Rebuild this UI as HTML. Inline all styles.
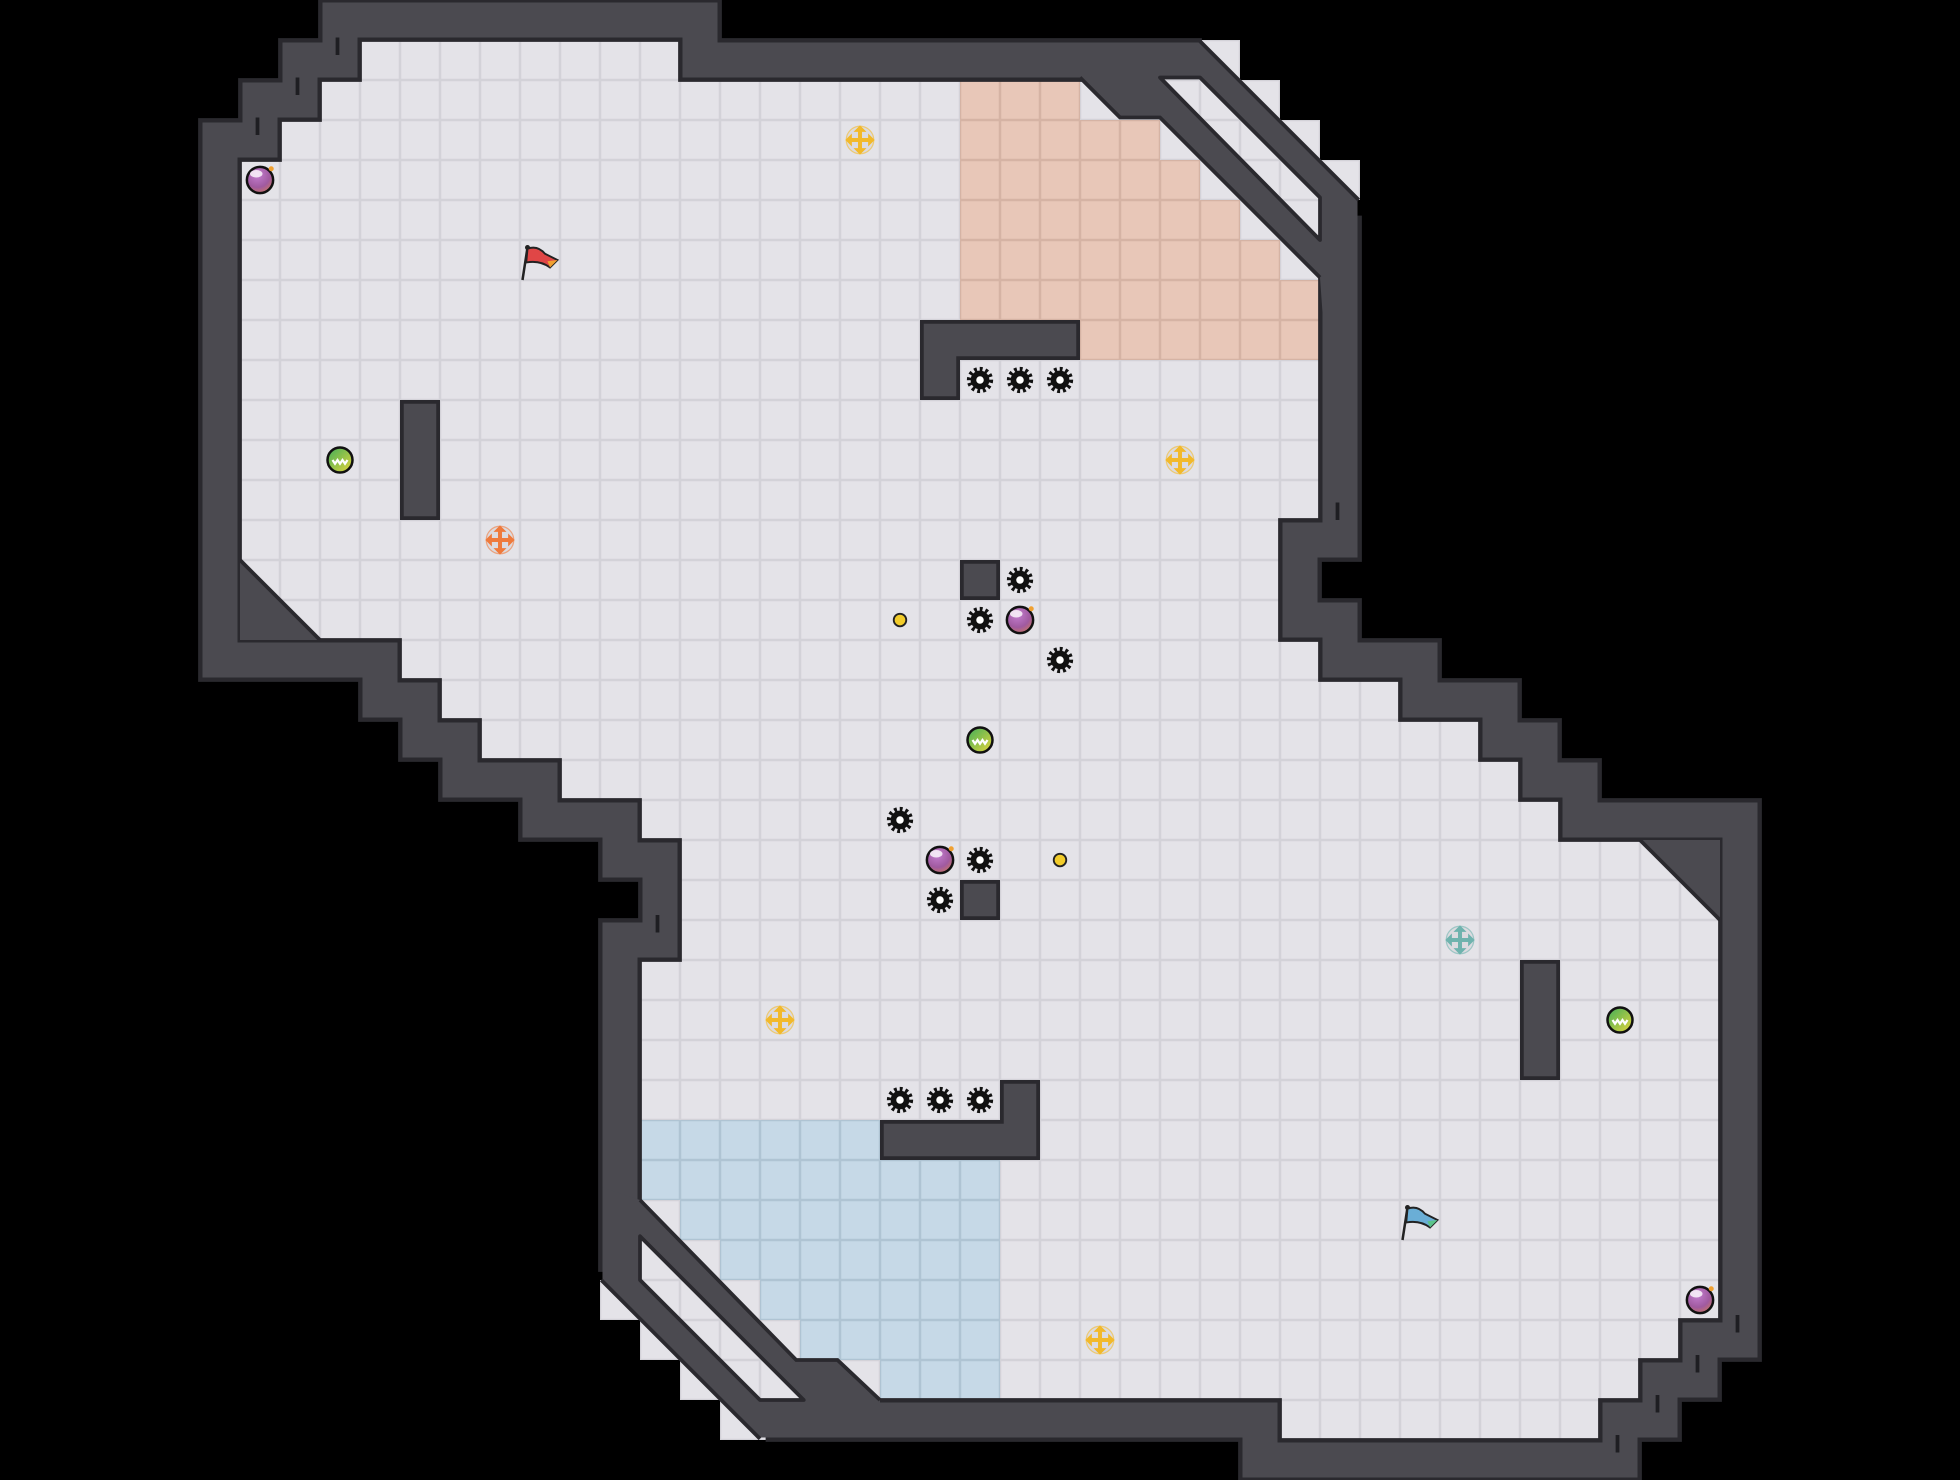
<!DOCTYPE html>
<html><head><meta charset="utf-8"><style>html,body{margin:0;padding:0;background:#000;}svg{display:block}</style></head>
<body>
<svg width="1960" height="1480" viewBox="0 0 1568 1184" xmlns="http://www.w3.org/2000/svg">
<defs>
<pattern id="pf" width="32" height="32" patternUnits="userSpaceOnUse"><rect width="32" height="32" fill="#d3d2d8"/><rect x="1" y="1" width="30" height="30" fill="#e4e3e8"/></pattern>
<pattern id="ps" width="32" height="32" patternUnits="userSpaceOnUse"><rect width="32" height="32" fill="#d5b3a4"/><rect x="1" y="1" width="30" height="30" fill="#e8c7b8"/></pattern>
<pattern id="pb" width="32" height="32" patternUnits="userSpaceOnUse"><rect width="32" height="32" fill="#afc4d3"/><rect x="1" y="1" width="30" height="30" fill="#c6d9e7"/></pattern>
<radialGradient id="gb" cx="0.4" cy="0.3" r="0.8"><stop offset="0" stop-color="#c47fd0"/><stop offset="0.6" stop-color="#a05aa0"/><stop offset="1" stop-color="#d07a5a"/></radialGradient>
<linearGradient id="gg" x1="0" y1="0" x2="1" y2="1"><stop offset="0" stop-color="#3fae5a"/><stop offset="1" stop-color="#e6d53a"/></linearGradient>
<g id="gear"><circle r="8.5" fill="none" stroke="#111" stroke-width="4" stroke-dasharray="2.2 2.2"/><circle r="7.5" fill="#111"/><circle r="3" fill="#fff"/></g>
<g id="bomb"><circle r="10.5" fill="url(#gb)" stroke="#111" stroke-width="2"/><ellipse cx="-3" cy="-5" rx="5" ry="3" fill="#fff" opacity="0.8"/><circle cx="9" cy="-9" r="2" fill="#f0a030"/></g>
<g id="green"><circle r="10" fill="url(#gg)" stroke="#111" stroke-width="2"/><path d="M-6,0 l2,3 l2,-3 l2,3 l2,-3 l2,3 l2,-3" fill="none" stroke="#fff" stroke-width="1.8"/></g>
<g id="cross"><circle r="11" fill="#d8d7dc" opacity="0.6"/><path d="M-9,0 H9 M0,-9 V9" stroke-width="3.2" fill="none"/><path d="M-11,0 l4,-4 v8 z M11,0 l-4,-4 v8 z M0,-11 l-4,4 h8 z M0,11 l-4,-4 h8 z"/></g>
</defs>
<rect width="1568" height="1184" fill="#000"/>
<g fill="url(#pf)">
<rect x="288" y="32" width="704" height="32"/>
<rect x="256" y="64" width="768" height="32"/>
<rect x="224" y="96" width="832" height="32"/>
<rect x="192" y="128" width="896" height="32"/>
<rect x="192" y="160" width="864" height="256"/>
<rect x="192" y="416" width="832" height="96"/>
<rect x="320" y="512" width="736" height="32"/>
<rect x="352" y="544" width="768" height="32"/>
<rect x="384" y="576" width="800" height="32"/>
<rect x="448" y="608" width="768" height="32"/>
<rect x="512" y="640" width="736" height="32"/>
<rect x="544" y="672" width="832" height="96"/>
<rect x="512" y="768" width="864" height="256"/>
<rect x="480" y="1024" width="896" height="32"/>
<rect x="512" y="1056" width="832" height="32"/>
<rect x="544" y="1088" width="768" height="32"/>
<rect x="576" y="1120" width="704" height="32"/>
</g>
<g fill="url(#ps)">
<rect x="768" y="64" width="96" height="32"/>
<rect x="768" y="96" width="160" height="32"/>
<rect x="768" y="128" width="192" height="32"/>
<rect x="768" y="160" width="224" height="32"/>
<rect x="768" y="192" width="256" height="32"/>
<rect x="768" y="224" width="288" height="32"/>
<rect x="864" y="256" width="192" height="32"/>
</g>
<g fill="url(#pb)">
<rect x="512" y="896" width="192" height="32"/>
<rect x="512" y="928" width="288" height="32"/>
<rect x="544" y="960" width="256" height="32"/>
<rect x="576" y="992" width="224" height="32"/>
<rect x="608" y="1024" width="192" height="32"/>
<rect x="640" y="1056" width="160" height="32"/>
<rect x="704" y="1088" width="96" height="32"/>
</g>
<g fill="none" stroke-linejoin="miter" stroke-linecap="square">
<g stroke="#2a292e" stroke-width="35">
<polyline points="944,48 560,48 560,16 272,16 272,48 240,48 240,80 208,80 208,112 176,112 176,528 304,528 304,560 336,560 336,592 368,592 368,624 432,624 432,656 496,656 496,688 528,688 528,752 496,752 496,1000"/>
<polyline points="630,1136 1008,1136 1008,1168 1296,1168 1296,1136 1328,1136 1328,1104 1360,1104 1360,1072 1392,1072 1392,656 1264,656 1264,624 1232,624 1232,592 1200,592 1200,560 1136,560 1136,528 1072,528 1072,496 1040,496 1040,432 1072,432 1072,190"/>
</g>
<g stroke="#4b4a50" stroke-width="28">
<polyline points="944,48 560,48 560,16 272,16 272,48 240,48 240,80 208,80 208,112 176,112 176,528 304,528 304,560 336,560 336,592 368,592 368,624 432,624 432,656 496,656 496,688 528,688 528,752 496,752 496,1000"/>
<polyline points="630,1136 1008,1136 1008,1168 1296,1168 1296,1136 1328,1136 1328,1104 1360,1104 1360,1072 1392,1072 1392,656 1264,656 1264,624 1232,624 1232,592 1200,592 1200,560 1136,560 1136,528 1072,528 1072,496 1040,496 1040,432 1072,432 1072,190"/>
</g>
</g>
<g fill="#4b4a50">
<polygon points="864,34 960,34 1086,160 1086,250 1058,250 1056,222 928,94 896,94 864,62"/>
<polygon points="482,950 512,960 637,1088 670,1088 704,1120 704,1150 608,1150 482,1024"/>
<polygon points="192,448 256,512 192,512"/>
<polygon points="1312,672 1376,672 1376,736"/>
</g>
<g fill="none" stroke="#2a292e" stroke-width="3" stroke-linejoin="miter">
<polyline points="960,33 1087,160"/>
<polyline points="864,62 896,94 928,94 1056,222"/>
<polyline points="512,960 637,1088 670,1088 704,1120"/>
<polyline points="481,1024 608,1151"/>
<polyline points="192,448 256,512"/>
<polyline points="1312,672 1376,736"/>
</g>
<g fill="url(#pf)" stroke="#2a292e" stroke-width="3" stroke-linejoin="round">
<polygon points="928,62 960,62 1056,158 1056,192"/>
<polygon points="512,989 512,1024 608,1120 643,1120"/>
</g>
<g stroke="#1e1e22" stroke-width="3">
<line x1="270" y1="30" x2="270" y2="44"/><line x1="238" y1="62" x2="238" y2="76"/><line x1="206" y1="94" x2="206" y2="108"/>
<line x1="1294" y1="1148" x2="1294" y2="1162"/><line x1="1326" y1="1116" x2="1326" y2="1130"/><line x1="1358" y1="1084" x2="1358" y2="1098"/><line x1="1390" y1="1052" x2="1390" y2="1066"/>
<line x1="1070" y1="402" x2="1070" y2="416"/><line x1="526" y1="732" x2="526" y2="746"/><line x1="814" y1="890" x2="814" y2="904"/>
</g>
<g fill="#4b4a50" stroke="#2a292e" stroke-width="3">
<path d="M737.5,257.5 H862.5 V286.5 H766.5 V318.5 H737.5 Z"/>
<rect x="321.5" y="321.5" width="29" height="93"/>
<rect x="769.5" y="449.5" width="29" height="29"/>
<rect x="769.5" y="705.5" width="29" height="29"/>
<path d="M801.5,865.5 H830.5 V926.5 H705.5 V897.5 H801.5 Z"/>
<rect x="1217.5" y="769.5" width="29" height="93"/>
</g>
<g>
<use href="#gear" x="784" y="304"/><use href="#gear" x="816" y="304"/><use href="#gear" x="848" y="304"/>
<use href="#gear" x="816" y="464"/><use href="#gear" x="784" y="496"/><use href="#gear" x="848" y="528"/>
<use href="#gear" x="720" y="656"/><use href="#gear" x="784" y="688"/><use href="#gear" x="752" y="720"/>
<use href="#gear" x="720" y="880"/><use href="#gear" x="752" y="880"/><use href="#gear" x="784" y="880"/>
</g>
<use href="#bomb" x="208" y="144"/><use href="#bomb" x="816" y="496"/><use href="#bomb" x="752" y="688"/><use href="#bomb" x="1360" y="1040"/>
<use href="#green" x="272" y="368"/><use href="#green" x="784" y="592"/><use href="#green" x="1296" y="816"/>
<g fill="#f2b92a" stroke="#f2b92a"><use href="#cross" x="688" y="112"/><use href="#cross" x="944" y="368"/><use href="#cross" x="624" y="816"/><use href="#cross" x="880" y="1072"/></g>
<g fill="#ef7a3c" stroke="#ef7a3c"><use href="#cross" x="400" y="432"/></g>
<g fill="#6fb3ae" stroke="#6fb3ae"><use href="#cross" x="1168" y="752"/></g>
<circle cx="720" cy="496" r="5" fill="#f2cc2a" stroke="#222" stroke-width="1.5"/>
<circle cx="848" cy="688" r="5" fill="#f2cc2a" stroke="#222" stroke-width="1.5"/>
<g transform="translate(418,196)"><line x1="4" y1="2" x2="0" y2="28" stroke="#222" stroke-width="2"/><circle cx="4" cy="2" r="2" fill="#222"/><path d="M4,3 Q12,0 18,7 L28,12 L22,18 Q14,12 3,14 Z" fill="#e04646" stroke="#222" stroke-width="1.5"/><path d="M20,13 L28,12 L22,18Z" fill="#f0a030"/></g>
<g transform="translate(1122,964)"><line x1="4" y1="2" x2="0" y2="28" stroke="#222" stroke-width="2"/><circle cx="4" cy="2" r="2" fill="#222"/><path d="M4,3 Q12,0 18,7 L28,12 L22,18 Q14,12 3,14 Z" fill="#6aaed6" stroke="#222" stroke-width="1.5"/><path d="M20,13 L28,12 L22,18Z" fill="#5bc48a"/></g>
</svg>
</body></html>
